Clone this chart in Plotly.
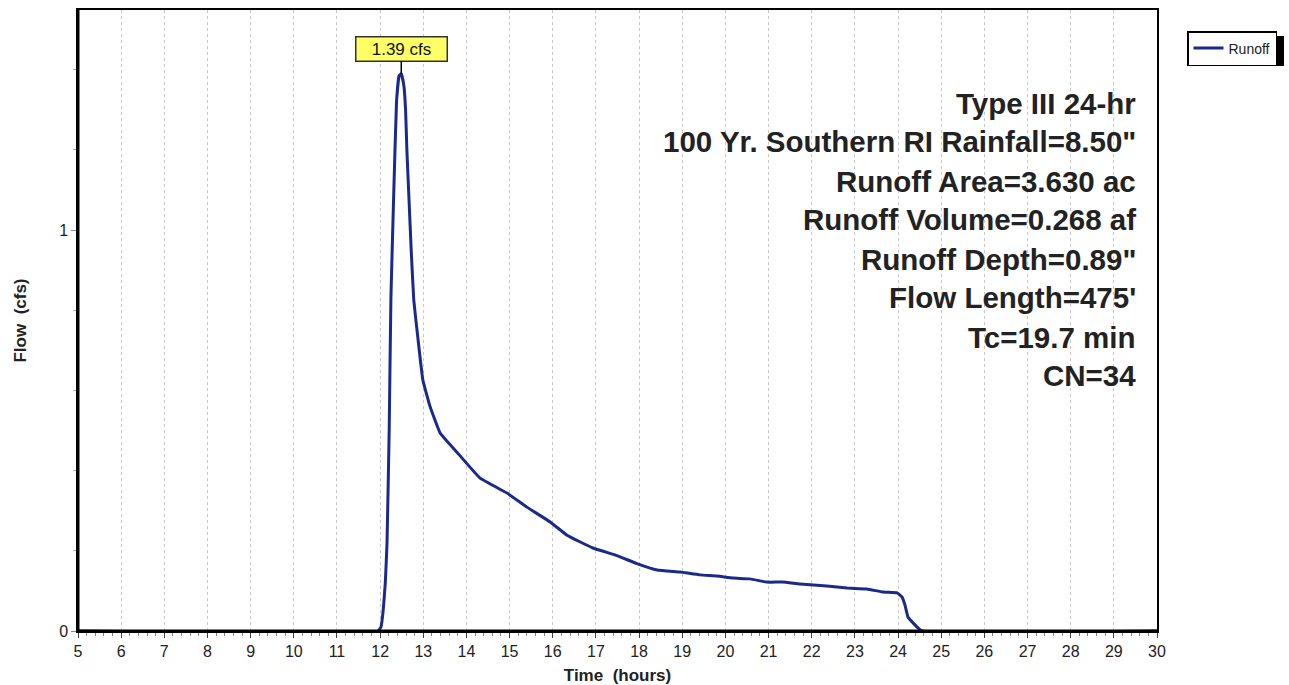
import plotly.graph_objects as go

# Hydrograph data (time in hours, flow in cfs)
time_h = [5.0, 11.95, 12.02, 12.07, 12.12, 12.16, 12.21, 12.25, 12.31, 12.38, 12.44, 12.49, 12.55,
          12.59, 12.62, 12.67, 12.72, 12.78, 12.88, 12.99, 13.16, 13.39, 13.78, 14.31, 14.94, 15.40,
          15.94, 16.33, 16.93, 17.49, 17.95, 18.42, 18.95, 19.41, 19.81, 20.18, 20.57, 20.96,
          21.33, 21.73, 22.35, 22.82, 23.28, 23.65, 23.98, 24.09, 24.16, 24.23, 24.35, 24.55, 30.0]
flow_cfs = [0.0, 0.0, 0.01, 0.05, 0.12, 0.22, 0.50, 0.83, 1.07, 1.32, 1.385, 1.39, 1.36,
            1.30, 1.20, 1.075, 0.95, 0.825, 0.726, 0.626, 0.559, 0.494, 0.446, 0.382, 0.344, 0.309,
            0.272, 0.239, 0.207, 0.188, 0.168, 0.152, 0.147, 0.140, 0.137, 0.132, 0.130, 0.122,
            0.122, 0.117, 0.112, 0.107, 0.105, 0.097, 0.095, 0.085, 0.065, 0.035, 0.02, 0.0, 0.0]

peak_time = 12.49
peak_flow = 1.39
peak_label = "1.39 cfs"

info_lines = [
    "Type III 24-hr",
    "100 Yr. Southern RI Rainfall=8.50\"",
    "Runoff Area=3.630 ac",
    "Runoff Volume=0.268 af",
    "Runoff Depth=0.89\"",
    "Flow Length=475'",
    "Tc=19.7 min",
    "CN=34",
]

x_ticks = list(range(5, 31))
y_ticks = [0, 1]

FONT = "Liberation Sans, Arial, sans-serif"

fig = go.Figure()
fig.add_trace(go.Scatter(
    x=time_h, y=flow_cfs, mode="lines", name="Runoff",
    line=dict(color="#1b2a8a", width=3, shape="spline", smoothing=0.3),
))

W, H = 1289, 685
ml, mr, mt, mb = 78, 132, 10, 54
plot_h = H - mt - mb
pw = W - ml - mr

fig.update_layout(
    width=W, height=H,
    margin=dict(l=ml, r=mr, t=mt, b=mb, autoexpand=False),
    paper_bgcolor="white", plot_bgcolor="white",
    font=dict(family=FONT, color="#222"),
    showlegend=True,
    legend=dict(x=(1187 - ml) / pw, y=(H - mb - 31) / plot_h, xanchor="left", yanchor="top",
                bgcolor="white", bordercolor="black", borderwidth=1.5,
                font=dict(size=14, color="#222"), itemwidth=30,
                tracegroupgap=0),
)

fig.update_xaxes(
    range=[5, 30], tickvals=x_ticks, ticktext=[str(t) for t in x_ticks],
    showgrid=True, gridcolor="#c8c8c8", griddash="dot", gridwidth=1,
    showline=True, linecolor="black", linewidth=1.5, mirror=True,
    ticks="outside", ticklen=5, tickcolor="#444",
    minor=dict(dtick=0.2, ticks="outside", ticklen=3, tickcolor="#888", showgrid=False),
    tickfont=dict(size=16, color="#222"),
    title=dict(text="<b>Time \u00a0(hours)</b>", font=dict(size=17, color="#222"), standoff=10),
    zeroline=False, automargin=False,
)
fig.update_yaxes(
    range=[0, 1.549], tickvals=y_ticks, ticktext=["0", "1"],
    showgrid=False,
    showline=True, linecolor="black", linewidth=1.5, mirror=True,
    ticks="outside", ticklen=5, tickcolor="#888",
    minor=dict(dtick=0.2, ticks="outside", ticklen=3, tickcolor="#aaa"),
    tickfont=dict(size=16, color="#222"),
    title=dict(text="<b>Flow \u00a0(cfs)</b>", font=dict(size=17, color="#222"), standoff=28),
    zeroline=False, automargin=False,
)

# thicker left and bottom axis lines
fig.add_shape(type="line", xref="paper", yref="paper", x0=0, x1=1, y0=0, y1=0,
              line=dict(color="black", width=3), layer="above")
fig.add_shape(type="line", xref="paper", yref="paper", x0=0, x1=0, y0=0, y1=1,
              line=dict(color="black", width=3), layer="above")

# legend shadow
fig.add_shape(type="rect", xref="paper", yref="paper",
              x0=(1192 - ml) / pw, x1=(1284 - ml) / pw,
              y0=(H - mb - 66) / plot_h, y1=(H - mb - 36) / plot_h,
              line=dict(width=0), fillcolor="black", layer="below")

# peak label
fig.add_annotation(x=peak_time, y=peak_flow, text=peak_label, showarrow=True,
                   arrowhead=0, arrowwidth=1.5, arrowcolor="black", ax=0, ay=-25,
                   font=dict(size=17, color="#111"), bgcolor="#ffff66",
                   width=86, height=19,
                   bordercolor="#333", borderwidth=1.5, borderpad=2)

# info text block
first_py = 103
step = 39
for i, line in enumerate(info_lines):
    py = first_py + i * step
    fig.add_annotation(xref="paper", yref="paper", x=(1138 - ml) / pw,
                       y=(H - mb - py) / plot_h, xanchor="right", yanchor="middle",
                       text="<b>" + line + "</b>", showarrow=False,
                       font=dict(size=29.5, color="#222"))

fig.write_html("out.html")
